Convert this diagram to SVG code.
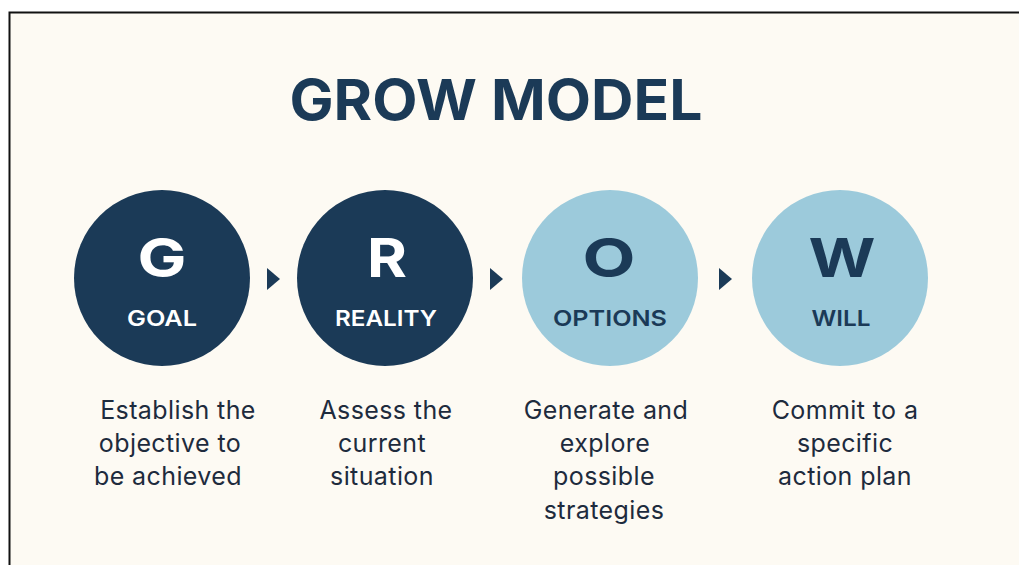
<svg xmlns="http://www.w3.org/2000/svg" width="1019" height="565" viewBox="0 0 1019 565">
  <style>
    .title { font-family: Inter, "Open Sans", "Liberation Sans", sans-serif; font-weight: 700; font-size: 57px; fill: #1b3a57; }
    .dark { fill: #1b3a57; }
    .light { fill: #9ccadb; }
    .letter { font-family: Inter, "Open Sans", "Liberation Sans", sans-serif; font-weight: 700; font-size: 54px; text-anchor: middle; }
    .label { font-family: Inter, "Open Sans", "Liberation Sans", sans-serif; font-weight: 600; font-size: 22px; text-anchor: middle; }
    .on-dark { fill: #ffffff; }
    .on-light { fill: #1b3a57; }
    .desc { font-family: Inter, "Open Sans", "Liberation Sans", sans-serif; font-weight: 400; font-size: 25px; letter-spacing: 0.4px; fill: #1e2b3d; text-anchor: middle; }
    .arrow { fill: #1b3a57; }
  </style>

  <!-- page and frame -->
  <rect x="0" y="0" width="1019" height="565" fill="#ffffff"/>
  <rect x="9" y="12" width="1010" height="553" fill="#fdfaf3"/>
  <path d="M9.5 565 V12.5 H1019" fill="none" stroke="#111111" stroke-width="2"/>

  <text class="title" x="496" y="120" text-anchor="middle" textLength="413" lengthAdjust="spacingAndGlyphs">GROW MODEL</text>

  <!-- connectors between stages -->
  <g id="connectors">
    <polygon class="arrow" points="267,268 280,279 267,290"/>
    <polygon class="arrow" points="490,268 503,279 490,290"/>
    <polygon class="arrow" points="719,268 732,279 719,290"/>
  </g>

  <g id="goal">
    <circle class="dark" cx="162" cy="278" r="88"/>
    <text class="letter on-dark" x="162" y="277" textLength="49" lengthAdjust="spacingAndGlyphs">G</text>
    <text class="label on-dark" x="162" y="326" textLength="70" lengthAdjust="spacingAndGlyphs">GOAL</text>
    <text class="desc" x="178" y="419">Establish the</text>
    <text class="desc" x="170" y="452">objective to</text>
    <text class="desc" x="168" y="485">be achieved</text>
  </g>

  <g id="reality">
    <circle class="dark" cx="385" cy="278" r="88"/>
    <text class="letter on-dark" x="387" y="277" textLength="40" lengthAdjust="spacingAndGlyphs">R</text>
    <text class="label on-dark" x="386" y="326" textLength="102" lengthAdjust="spacingAndGlyphs">REALITY</text>
    <text class="desc" x="386" y="419">Assess the</text>
    <text class="desc" x="382" y="452">current</text>
    <text class="desc" x="382" y="485">situation</text>
  </g>

  <g id="options">
    <circle class="light" cx="610" cy="278" r="88"/>
    <text class="letter on-light" x="609" y="277" textLength="53" lengthAdjust="spacingAndGlyphs">O</text>
    <text class="label on-light" x="610" y="326" textLength="114" lengthAdjust="spacingAndGlyphs">OPTIONS</text>
    <text class="desc" x="606" y="419">Generate and</text>
    <text class="desc" x="605" y="452">explore</text>
    <text class="desc" x="604" y="485">possible</text>
    <text class="desc" x="604" y="519">strategies</text>
  </g>

  <g id="will">
    <circle class="light" cx="840" cy="278" r="88"/>
    <text class="letter on-light" x="842" y="277" textLength="67" lengthAdjust="spacingAndGlyphs">W</text>
    <text class="label on-light" x="841" y="326" textLength="59" lengthAdjust="spacingAndGlyphs">WILL</text>
    <text class="desc" x="845" y="419">Commit to a</text>
    <text class="desc" x="845" y="452">specific</text>
    <text class="desc" x="845" y="485">action plan</text>
  </g>
</svg>
